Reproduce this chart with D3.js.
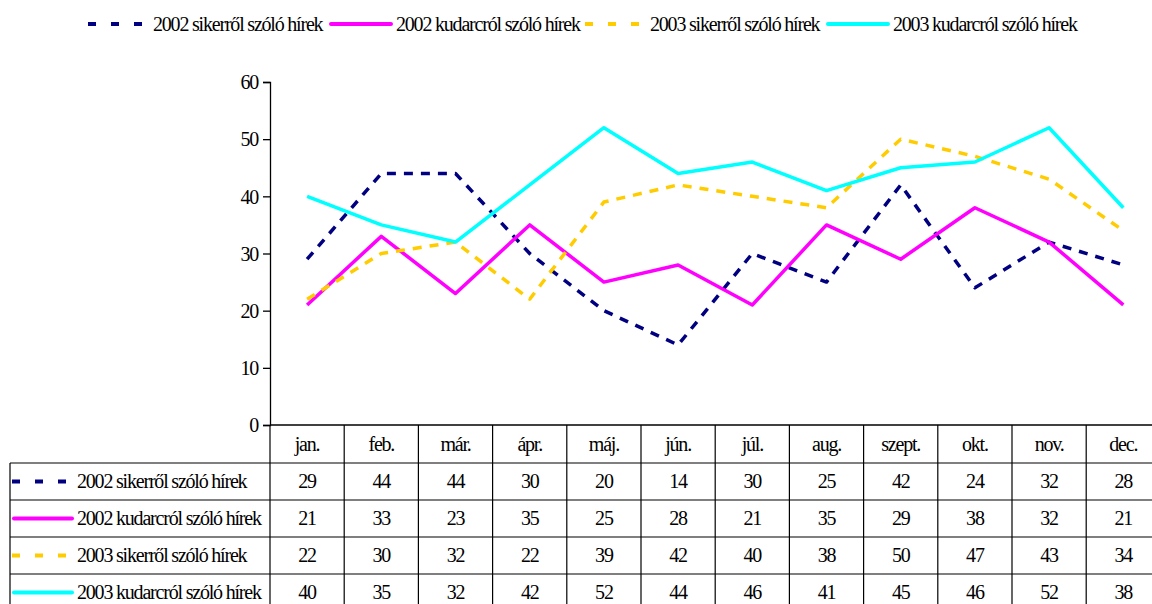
<!DOCTYPE html>
<html>
<head>
<meta charset="utf-8">
<script src="https://cdn.jsdelivr.net/npm/d3@7"></script>
<style>
  body { margin: 0; background: #fff; }
  svg text { font-family: "Times New Roman", "Liberation Serif", Tinos, serif; font-size: 20px; letter-spacing: -1.2px; fill: #000; }
</style>
</head>
<body>
<div id="chart"></div>
<script>
// months and series
var months = ["jan.", "feb.", "már.", "ápr.", "máj.", "jún.", "júl.", "aug.", "szept.", "okt.", "nov.", "dec."];
var seriesNames = ["2002 sikerről szóló hírek", "2002 kudarcról szóló hírek", "2003 sikerről szóló hírek", "2003 kudarcról szóló hírek"];
var siker2002 = [29, 44, 44, 30, 20, 14, 30, 25, 42, 24, 32, 28];
var kudarc2002 = [21, 33, 23, 35, 25, 28, 21, 35, 29, 38, 32, 21];
var siker2003 = [22, 30, 32, 22, 39, 42, 40, 38, 50, 47, 43, 34];
var kudarc2003 = [40, 35, 32, 42, 52, 44, 46, 41, 45, 46, 52, 38];
var yTicks = [0, 10, 20, 30, 40, 50, 60];

var colors = ["#000080", "#ff00ff", "#ffcc00", "#00ffff"];
var dashes = ["9,8", null, "9,8", null];
var allValues = [siker2002, kudarc2002, siker2003, kudarc2003];

var width = 1152, height = 604;
var plotLeft = 270, colW = 74.2;
var plotTop = 82, zeroY = 425;
var rowTop = 463, rowH = 37;

var svg = d3.select("#chart").append("svg")
    .attr("width", width)
    .attr("height", height);

var xScale = d3.scaleBand()
    .domain(months)
    .range([plotLeft, plotLeft + colW * months.length]);

var yScale = d3.scaleLinear()
    .domain([0, 60])
    .range([zeroY, plotTop]);

// y axis
var yAxis = d3.axisLeft(yScale).tickValues(yTicks).tickSize(7).tickPadding(5).tickFormat(d3.format("d"));
var yg = svg.append("g")
    .attr("transform", "translate(" + plotLeft + ",0)")
    .call(yAxis)
    .attr("font-family", null)
    .attr("font-size", null);
yg.select(".domain").attr("stroke", "#000").attr("stroke-width", 1.3);
yg.selectAll(".tick line").attr("stroke", "#000").attr("stroke-width", 1.3);
yg.selectAll(".tick text").attr("dy", "0.34em");

// table grid
var tableBottom = height + 10;
var grid = svg.append("g").attr("stroke", "#000").attr("stroke-width", 1.2);
grid.append("line").attr("x1", plotLeft).attr("x2", width).attr("y1", zeroY).attr("y2", zeroY).attr("stroke-width", 1.6);
grid.selectAll(".hrow")
  .data(d3.range(4))
 .enter().append("line")
  .attr("x1", 10).attr("x2", width)
  .attr("y1", function(d) { return rowTop + d * rowH; })
  .attr("y2", function(d) { return rowTop + d * rowH; });
grid.append("line").attr("x1", 10).attr("x2", 10).attr("y1", rowTop).attr("y2", tableBottom);
grid.selectAll(".vcol")
  .data(months)
 .enter().append("line")
  .attr("x1", function(d) { return xScale(d); })
  .attr("x2", function(d) { return xScale(d); })
  .attr("y1", zeroY).attr("y2", tableBottom);

// month header
svg.selectAll(".month")
  .data(months)
 .enter().append("text")
  .attr("x", function(d) { return xScale(d) + xScale.bandwidth() / 2; })
  .attr("y", zeroY + 19)
  .attr("dy", "0.34em")
  .attr("text-anchor", "middle")
  .text(function(d) { return d; });

// table values
allValues.forEach(function(vals, i) {
  svg.selectAll(".val" + i)
    .data(vals)
   .enter().append("text")
    .attr("x", function(d, j) { return xScale(months[j]) + xScale.bandwidth() / 2; })
    .attr("y", rowTop + i * rowH + rowH / 2)
    .attr("dy", "0.34em")
    .attr("text-anchor", "middle")
    .text(function(d) { return d; });
});

// legend keys helper
function legendKey(g, i, x1, x2, y) {
  g.append("line")
    .attr("x1", x1).attr("x2", x2)
    .attr("y1", y).attr("y2", y)
    .attr("stroke", colors[i])
    .attr("stroke-width", 4)
    .attr("stroke-linecap", dashes[i] ? "butt" : "round")
    .attr("stroke-dasharray", dashes[i] ? "8,15" : null);
}

// table row legends
seriesNames.forEach(function(name, i) {
  var y = rowTop + i * rowH + rowH / 2;
  legendKey(svg, i, dashes[i] ? 12 : 14, dashes[i] ? 70 : 72, y);
  svg.append("text")
    .attr("x", 77).attr("y", y)
    .attr("dy", "0.34em")
    .text(name);
});

// top legend
var legX = [88, 331, 585, 828];
var legTextX = [153, 396, 650, 893];
seriesNames.forEach(function(name, i) {
  legendKey(svg, i, legX[i], legX[i] + 60, 24);
  svg.append("text")
    .attr("x", legTextX[i]).attr("y", 24)
    .attr("dy", "0.34em")
    .text(name);
});

// series lines
var line = d3.line()
  .x(function(d, j) { return xScale(months[j]) + xScale.bandwidth() / 2; })
  .y(function(d) { return yScale(d); });

allValues.forEach(function(vals, i) {
  svg.append("path")
    .datum(vals)
    .attr("d", line)
    .attr("fill", "none")
    .attr("stroke", colors[i])
    .attr("stroke-width", 3.5)
    .attr("stroke-linejoin", "round")
    .attr("stroke-dasharray", dashes[i]);
});
</script>
</body>
</html>
